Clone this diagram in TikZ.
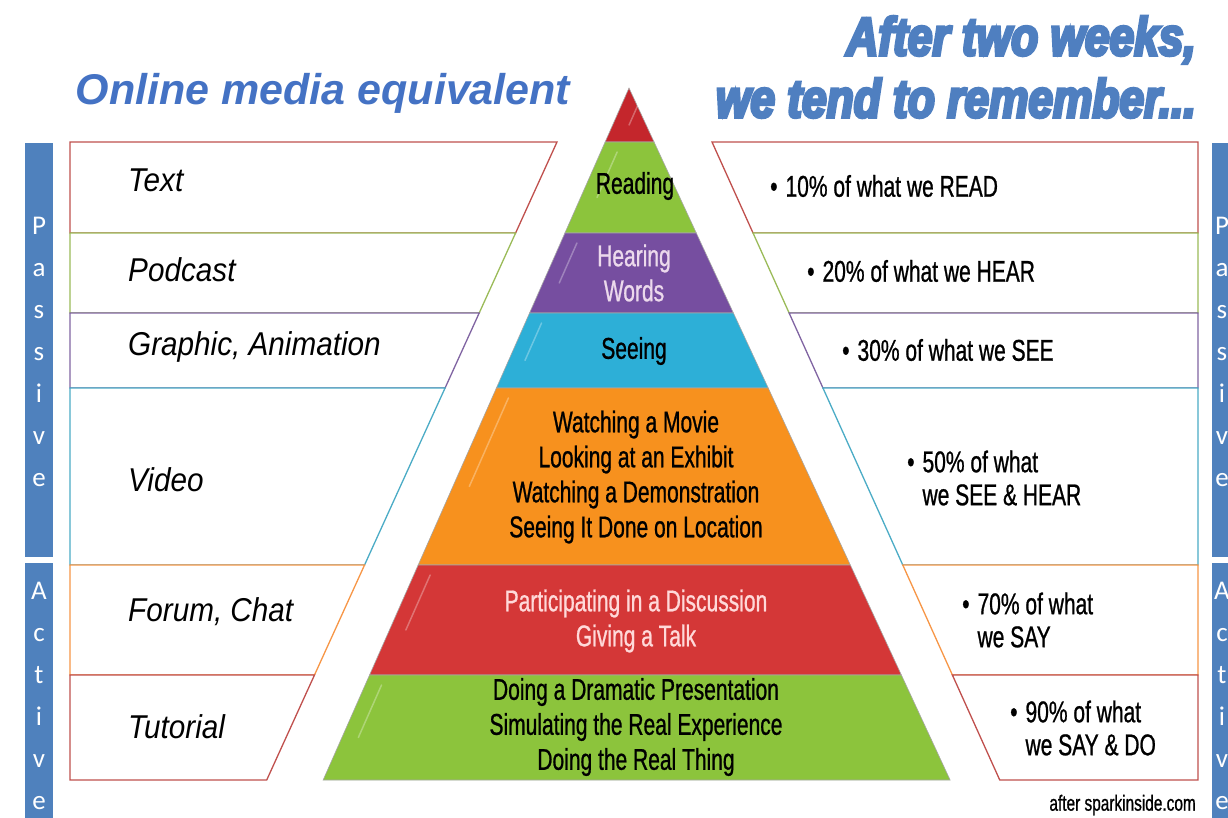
\documentclass[tikz,border=0pt]{standalone}
\usepackage{fontspec}
\setmainfont{Liberation Sans}
\newfontfamily\narrowf[FakeStretch=0.7,FakeBold=0.8]{Liberation Sans}
\newfontfamily\itf[FakeStretch=0.9]{Liberation Sans}
\newfontfamily\heavyf[FakeStretch=0.82,FakeBold=5.5]{Liberation Sans Bold Italic}
\newfontfamily\sidef{Carlito}
\definecolor{sideblue}{RGB}{79,129,189}
\definecolor{titleblue}{RGB}{68,114,196}
\definecolor{headblue}{RGB}{79,127,192}
\definecolor{pred}{RGB}{196,38,44}
\definecolor{pgreen}{RGB}{140,196,60}
\definecolor{ppurple}{RGB}{118,78,160}
\definecolor{pcyan}{RGB}{45,175,215}
\definecolor{porange}{RGB}{247,145,30}
\definecolor{pred2}{RGB}{212,55,55}
\definecolor{ored}{RGB}{192,80,77}
\definecolor{ogreen}{RGB}{155,187,89}
\definecolor{opurple}{RGB}{128,100,162}
\definecolor{ocyan}{RGB}{75,172,198}
\definecolor{oorange}{RGB}{247,150,70}
\newcommand{\pyrband}[3]{%
  \fill[#3,draw=black!35,line width=0.6pt] ({629-0.442*(#1-88)},#1) -- ({629+0.464*(#1-88)},#1) -- ({629+0.464*(#2-88)},#2) -- ({629-0.442*(#2-88)},#2) -- cycle;
  \draw[white,opacity=0.3,line width=1.5pt,line cap=round] ({629-0.442*(#1-88)+12},{#1+10}) -- ({629-0.442*(#1-88)+12-0.442*0.5*(#2-#1)},{#1+10+0.5*(#2-#1)});}
\newcommand{\leftrow}[3]{%
  \draw[#3,line width=1.3pt,fill=white] (70,#1) -- ({557-0.455*(#1-142)},#1) -- ({557-0.455*(#2-142)},#2) -- (70,#2) -- cycle;}
\newcommand{\rightrow}[3]{%
  \draw[#3,line width=1.3pt,fill=white] ({712+0.451*(#1-142)},#1) -- (1198,#1) -- (1198,#2) -- ({712+0.451*(#2-142)},#2) -- cycle;}
\newcommand{\blt}{•\hspace{8pt}}
\newcommand{\bltsp}{\hphantom{\blt}}
\begin{document}
\begin{tikzpicture}[x=1pt,y=-1pt,
  pyrtxt/.style={font=\narrowf\fontsize{30}{35}\selectfont,align=center,inner sep=0pt},
  medtxt/.style={font=\itf\itshape\fontsize{33}{40}\selectfont,anchor=west,inner sep=0pt},
  remtxt/.style={font=\narrowf\fontsize{30}{33}\selectfont,anchor=west,align=left,inner sep=0pt},
  sidetxt/.style={font=\sidef\fontsize{27}{42}\selectfont,text=white,align=center,inner sep=0pt},
  sidebar/.style={fill=sideblue}]
\useasboundingbox (0,0) rectangle (1228,817);
\clip (0,0) rectangle (1228,817);
\fill[white] (0,0) rectangle (1228,817);
% titles
\node[font=\bfseries\itshape\fontsize{43}{48}\selectfont,text=titleblue,inner sep=0pt] (ttl) at (323,93) {Online media equivalent};
\node[font=\heavyf\fontsize{54}{62}\selectfont,text=headblue,align=right,anchor=east,inner sep=0pt] (head) at (1196,67) {After two weeks,\\we tend to remember...};
% side bars
\fill[sidebar] (25,143) rectangle (53,557);
\fill[sidebar] (25,563) rectangle (53,830);
\fill[sidebar] (1212,143) rectangle (1240,557);
\fill[sidebar] (1212,563) rectangle (1240,830);
\node[sidetxt] (lpass) at (39,352) {P\\a\\s\\s\\i\\v\\e};
\node[sidetxt] (lact) at (39,696) {A\\c\\t\\i\\v\\e};
\node[sidetxt] (rpass) at (1222,352) {P\\a\\s\\s\\i\\v\\e};
\node[sidetxt] (ract) at (1222,696) {A\\c\\t\\i\\v\\e};
% left rows
\leftrow{142}{233}{ored}
\leftrow{233}{313}{ogreen}
\leftrow{313}{388}{opurple}
\leftrow{388}{565}{ocyan}
\leftrow{565}{675}{oorange}
\leftrow{675}{780}{ored}
% right rows
\rightrow{142}{233}{ored}
\rightrow{233}{313}{ogreen}
\rightrow{313}{388}{opurple}
\rightrow{388}{565}{ocyan}
\rightrow{565}{675}{oorange}
\rightrow{675}{780}{ored}
% pyramid
\pyrband{88}{142}{pred}
\pyrband{142}{233}{pgreen}
\pyrband{233}{313}{ppurple}
\pyrband{313}{388}{pcyan}
\pyrband{388}{565}{porange}
\pyrband{565}{675}{pred2}
\pyrband{675}{780}{pgreen}
% pyramid texts
\node[pyrtxt] (read) at (635,186) {Reading};
\node[pyrtxt,text=white!85!violet] (hear) at (634,273) {Hearing\\Words};
\node[pyrtxt] (see) at (634,351) {Seeing};
\node[pyrtxt] (watch) at (636,477) {Watching a Movie\\Looking at an Exhibit\\Watching a Demonstration\\Seeing It Done on Location};
\node[pyrtxt,text=white!85!red] (part) at (636,621) {Participating in a Discussion\\Giving a Talk};
\node[pyrtxt] (do) at (636,727) {Doing a Dramatic Presentation\\Simulating the Real Experience\\Doing the Real Thing};
% left labels
\node[medtxt] (m1) at (128,180) {Text};
\node[medtxt] (m2) at (128,270) {Podcast};
\node[medtxt] (m3) at (128,347) {Graphic, Animation};
\node[medtxt] (m4) at (128,480) {Video};
\node[medtxt] (m5) at (128,612) {Forum, Chat};
\node[medtxt] (m6) at (128,727) {Tutorial};
% right labels
\node[remtxt] (r1) at (770,186) {\blt 10\% of what we READ};
\node[remtxt] (r2) at (807,271) {\blt 20\% of what we HEAR};
\node[remtxt] (r3) at (842,350) {\blt 30\% of what we SEE};
\node[remtxt] (r4) at (907,478) {\blt 50\% of what\\\bltsp we SEE \& HEAR};
\node[remtxt] (r5) at (962,620) {\blt 70\% of what\\\bltsp we SAY};
\node[remtxt] (r6) at (1010,728) {\blt 90\% of what\\\bltsp we SAY \& DO};
\node[font=\narrowf\fontsize{22}{24}\selectfont,anchor=east,inner sep=0pt] (credit) at (1196,805) {after sparkinside.com};
\end{tikzpicture}
\end{document}
